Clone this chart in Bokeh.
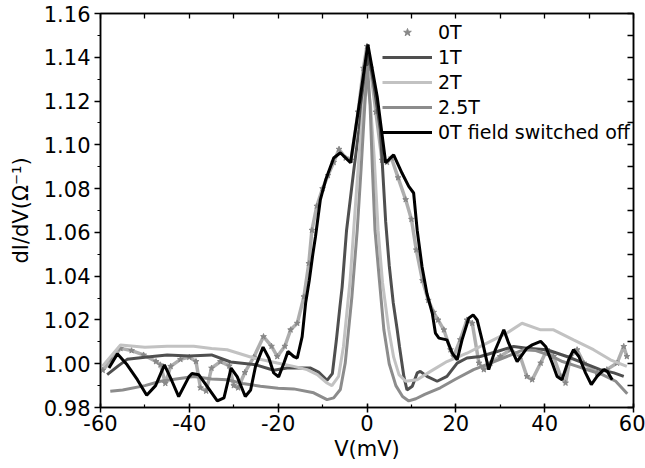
from bokeh.plotting import figure
from bokeh.models import LinearAxis, Legend, LegendItem, PrintfTickFormatter, FixedTicker, Range1d
from bokeh.embed import file_html
from bokeh.resources import INLINE

# ---------------- data ----------------
x_0T = [-59.5, -57.5, -55.5, -53.0, -50.3, -47.5, -46.5, -45.4, -44.2, -42.0, -40.0, -38.5, -37.5, -36.2,
        -35.0, -33.0, -31.0, -30.0, -29.0, -27.5, -25.5, -23.3, -21.5, -20.2, -18.5, -17.2, -15.7, -14.2,
        -13.1, -12.4, -11.3, -10.0, -8.8, -7.5, -6.3, -4.8, -3.6, -2.0, -0.8, 0.0, 0.8, 2.0, 3.4, 4.5, 5.5,
        7.0, 8.7, 10.0, 11.1, 12.5, 13.8, 15.0, 16.0, 17.3, 18.8, 19.5, 21.0, 22.5, 23.7, 25.2, 26.3, 27.8,
        30.0, 32.3, 34.5, 36.0, 37.2, 39.1, 40.5, 42.0, 43.6, 44.7, 45.8, 47.3, 48.8, 51.8, 54.0, 56.3,
        57.8, 58.5]
y_0T = [0.997, 1.002, 1.007, 1.006, 1.004, 1.001, 0.9995, 0.991, 0.9988, 1.002, 1.003, 1.001, 0.989, 0.9875,
        0.998, 1.001, 0.999, 0.990, 0.989, 0.996, 1.003, 1.0124, 1.008, 1.0033, 1.008, 1.0155, 1.0185, 1.0306,
        1.0458, 1.061, 1.072, 1.080, 1.086, 1.092, 1.098, 1.094, 1.093, 1.115, 1.135, 1.145, 1.135, 1.115,
        1.093, 1.092, 1.094, 1.085, 1.075, 1.066, 1.052, 1.038, 1.029, 1.0235, 1.020, 1.0155, 1.0064, 1.0033,
        1.011, 1.020, 1.0185, 1.0003, 0.9973, 1.0003, 1.0033, 1.0064, 1.0033, 0.9942, 0.9927, 1.0003, 1.0064,
        1.0033, 0.9942, 0.9912, 1.0033, 1.0064, 1.0003, 0.9958, 0.9973, 1.0003, 1.0079, 1.0033]

x_1T = [-58.5, -56.0, -54.0, -50.0, -45.0, -40.0, -35.0, -30.7, -25.0, -21.0, -18.0, -15.7, -12.7, -10.9,
        -9.0, -7.8, -6.9, -6.1, -5.6, -4.6, -3.0, -1.8, -0.6, 0.4, 1.5, 3.0, 4.2, 5.0, 5.9, 6.8, 7.3, 8.3,
        9.0, 10.2, 11.3, 12.0, 13.5, 15.8, 18.0, 20.3, 22.5, 25.5, 29.3, 33.0, 36.0, 40.5, 45.0, 48.8, 52.5,
        55.6, 57.8]
y_1T = [0.995, 0.999, 1.002, 1.003, 1.004, 1.0035, 1.004, 1.0008, 0.9995, 0.997, 0.998, 0.998, 0.998, 0.9962,
        0.9924, 0.9955, 1.0107, 1.026, 1.035, 1.061, 1.088, 1.107, 1.128, 1.141, 1.128, 1.107, 1.065, 1.045,
        1.028, 1.0155, 1.008, 0.9942, 0.988, 0.9897, 0.9958, 0.9965, 0.9942, 0.992, 0.9942, 1.0003, 1.0026,
        1.0033, 1.0056, 1.0079, 1.0071, 1.0064, 1.0033, 1.0003, 0.9973, 0.9958, 0.9942]

x_2T = [-59.6, -55.5, -50.0, -45.0, -39.0, -35.0, -31.5, -25.5, -20.2, -16.5, -13.5, -11.2, -9.0, -7.9, -6.4,
        -5.3, -3.8, -3.0, -1.8, -0.8, 0.0, 0.8, 1.6, 2.5, 3.5, 4.9, 6.0, 7.2, 8.7, 11.3, 14.3, 18.0, 22.5,
        27.0, 31.5, 34.9, 39.1, 42.0, 46.5, 51.0, 54.8, 58.5]
y_2T = [0.9988, 1.0086, 1.0075, 1.008, 1.008, 1.007, 1.0064, 1.0026, 1.0003, 0.9988, 0.9973, 0.995, 0.9912,
        0.990, 0.9942, 1.0079, 1.0382, 1.061, 1.095, 1.118, 1.130, 1.118, 1.095, 1.061, 1.037, 1.0155, 1.003,
        0.995, 0.992, 0.9927, 0.9965, 1.001, 1.0048, 1.0094, 1.014, 1.0185, 1.0155, 1.0155, 1.0109, 1.0064,
        1.0018, 0.9988]

x_25T = [-57.8, -55.0, -50.0, -46.5, -39.0, -35.0, -31.5, -28.0, -24.0, -20.0, -16.5, -12.0, -9.0, -7.5,
         -6.0, -4.9, -3.4, -2.2, -1.3, -0.5, 0.1, 0.7, 1.2, 1.8, 2.8, 3.8, 5.0, 6.5, 8.0, 9.4, 11.0, 13.0,
         16.5, 20.0, 24.0, 27.5, 31.5, 35.3, 38.0, 41.0, 44.0, 47.0, 50.0, 53.0, 56.0, 58.6]
y_25T = [0.9874, 0.988, 0.990, 0.992, 0.9942, 0.993, 0.9927, 0.991, 0.9897, 0.9888, 0.9885, 0.9867, 0.9836,
         0.9844, 0.9882, 1.0003, 1.0306, 1.061, 1.090, 1.118, 1.136, 1.118, 1.090, 1.061, 1.038, 1.0155, 1.0,
         0.990, 0.985, 0.983, 0.984, 0.986, 0.989, 0.993, 0.9973, 1.0, 1.0033, 1.0064, 1.006, 1.004, 1.001,
         0.999, 0.997, 0.995, 0.992, 0.9863]

x_off = [-58.1, -56.2, -54.0, -51.7, -49.6, -47.6, -45.6, -43.9, -42.4, -40.1, -39.4, -37.9, -36.0, -33.7,
         -32.2, -30.6, -29.2, -27.4, -26.2, -25.1, -23.4, -22.1, -21.0, -19.9, -18.7, -17.8, -16.5, -15.7,
         -14.6, -13.8, -13.0, -12.2, -11.6, -10.5, -9.3, -7.5, -6.0, -3.7, -1.5, 0.2, 2.3, 4.2, 6.0, 7.9,
         9.4, 10.5, 11.3, 12.4, 13.5, 14.7, 15.4, 16.2, 18.0, 19.2, 20.3, 21.4, 22.9, 23.9, 24.8, 25.9, 27.4,
         28.9, 30.8, 31.9, 33.8, 34.9, 36.0, 37.2, 39.1, 40.2, 41.7, 42.8, 43.9, 45.4, 46.5, 47.7, 49.2,
         50.5, 51.8, 53.3, 54.1, 55.2]
y_off = [0.998, 1.0045, 0.9995, 0.9927, 0.9856, 0.990, 0.9995, 0.992, 0.985, 0.994, 0.9955, 0.995, 0.9897,
         0.983, 0.9844, 0.998, 0.994, 0.985, 0.988, 0.9988, 1.0076, 1.0026, 0.9958, 0.994, 1.0003, 1.0056,
         1.0033, 1.0026, 1.0124, 1.028, 1.038, 1.050, 1.058, 1.075, 1.084, 1.094, 1.0964, 1.0918, 1.122,
         1.1458, 1.122, 1.0918, 1.0954, 1.087, 1.081, 1.078, 1.061, 1.0442, 1.032, 1.023, 1.014, 1.0117,
         1.0109, 1.0048, 1.0018, 1.0109, 1.0208, 1.0223, 1.020, 1.0109, 0.9973, 1.0064, 1.0155, 1.0094,
         1.001, 1.004, 1.0071, 1.0086, 1.0102, 1.0079, 1.0003, 0.9942, 0.9927, 1.0018, 1.0064, 1.0033,
         0.9958, 0.9905, 0.9942, 0.9973, 0.9965, 0.9927]

x_ticks = [-60, -40, -20, 0, 20, 40, 60]
x_minor = [-60, -50, -40, -30, -20, -10, 0, 10, 20, 30, 40, 50, 60]
y_ticks = [0.98, 1.00, 1.02, 1.04, 1.06, 1.08, 1.10, 1.12, 1.14, 1.16]
y_minor = [0.98, 0.99, 1.00, 1.01, 1.02, 1.03, 1.04, 1.05, 1.06, 1.07, 1.08, 1.09, 1.10, 1.11, 1.12,
           1.13, 1.14, 1.15, 1.16]

FONT = "DejaVu Sans"

p = figure(width=645, height=468, output_backend="svg", toolbar_location=None,
           x_range=Range1d(-60, 60), y_range=Range1d(0.98, 1.16),
           min_border_left=100, min_border_right=12, min_border_top=13, min_border_bottom=61)
p.xgrid.visible = False
p.ygrid.visible = False
p.outline_line_color = "black"
p.outline_line_width = 1.5
p.background_fill_color = "white"
p.border_fill_color = "white"

# series
r0l = p.line(x_0T, y_0T, line_color="#a0a0a0", line_width=3.5, line_alpha=0.85)
r0s = p.scatter(x_0T, y_0T, marker="star", size=6, fill_color="#888888", line_color="#888888")
r1 = p.line(x_1T, y_1T, line_color="#4f4f4f", line_width=3)
r2 = p.line(x_2T, y_2T, line_color="#c2c2c2", line_width=3)
r25 = p.line(x_25T, y_25T, line_color="#8c8c8c", line_width=3)
roff = p.line(x_off, y_off, line_color="black", line_width=3)

# axes
for ax in (p.xaxis[0], p.yaxis[0]):
    ax.major_label_text_font = FONT
    ax.major_label_text_font_size = "21px"
    ax.major_label_text_color = "black"
    ax.axis_label_text_font = FONT
    ax.axis_label_text_font_size = "21px"
    ax.axis_label_text_font_style = "normal"
    ax.axis_label_text_color = "black"
    ax.axis_line_color = "black"
    ax.major_tick_line_color = "black"
    ax.minor_tick_line_color = "black"
    ax.axis_line_width = 1.5
    ax.major_tick_line_width = 1.5
    ax.minor_tick_line_width = 1.2

p.xaxis.ticker = FixedTicker(ticks=x_ticks, minor_ticks=x_minor)
p.yaxis.ticker = FixedTicker(ticks=y_ticks, minor_ticks=y_minor)
p.xaxis.formatter = PrintfTickFormatter(format="%d")
p.yaxis.formatter = PrintfTickFormatter(format="%.2f")
p.xaxis.axis_label = "V(mV)"
p.yaxis.axis_label = "dI/dV(Ω⁻¹)"
p.xaxis.major_tick_in = 4
p.xaxis.major_tick_out = 5
p.xaxis.minor_tick_in = 3
p.xaxis.minor_tick_out = 0
p.xaxis.major_label_standoff = 2
p.xaxis.axis_label_standoff = 3
p.yaxis.major_tick_in = 0
p.yaxis.major_tick_out = 6
p.yaxis.minor_tick_in = 0
p.yaxis.minor_tick_out = 3
p.yaxis.major_label_standoff = 4
p.yaxis.axis_label_standoff = 8

# top and right frame ticks (no labels: only minor-style ticks at every position)
top = LinearAxis(ticker=FixedTicker(ticks=[], minor_ticks=x_minor),
                 minor_tick_in=5, minor_tick_out=0, major_tick_in=0, major_tick_out=0,
                 axis_line_color="black", minor_tick_line_color="black",
                 axis_line_width=1.5, minor_tick_line_width=1.3)
right = LinearAxis(ticker=FixedTicker(ticks=[], minor_ticks=y_minor),
                   minor_tick_in=6, minor_tick_out=0, major_tick_in=0, major_tick_out=0,
                   axis_line_color="black", minor_tick_line_color="black",
                   axis_line_width=1.5, minor_tick_line_width=1.3)
p.add_layout(top, "above")
p.add_layout(right, "right")

legend = Legend(items=[
    LegendItem(label="0T", renderers=[r0s]),
    LegendItem(label="1T", renderers=[r1]),
    LegendItem(label="2T", renderers=[r2]),
    LegendItem(label="2.5T", renderers=[r25]),
    LegendItem(label="0T field switched off", renderers=[roff]),
], location=(282, 264), label_text_font=FONT, label_text_font_size="19px",
    label_text_color="black",
    glyph_width=50, glyph_height=20, label_height=20, spacing=3, padding=0, margin=0,
    label_standoff=6, background_fill_alpha=0, border_line_color=None)
p.add_layout(legend)

open("out.html", "w").write(file_html(p, INLINE))
